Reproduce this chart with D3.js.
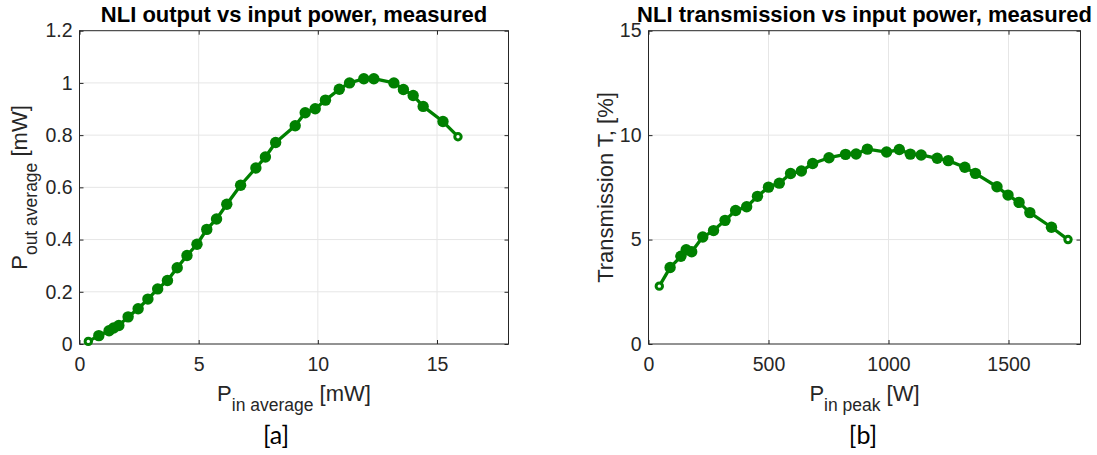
<!DOCTYPE html>
<html>
<head>
<meta charset="utf-8">
<script src="https://cdn.jsdelivr.net/npm/d3@7"></script>
<style>
  html, body { margin: 0; padding: 0; background: #ffffff; }
  svg { display: block; }
</style>
</head>
<body>
<svg id="chart" width="1097" height="455"></svg>
<script>
// Panel [a]: average output power vs average input power
const pinAverage = [0.37, 0.81, 1.24, 1.43, 1.65, 2.04, 2.46, 2.87, 3.28, 3.69, 4.10, 4.51,
  4.93, 5.34, 5.75, 6.18, 6.76, 7.40, 7.80, 8.23, 9.05, 9.47, 9.89, 10.32, 10.90, 11.33,
  11.93, 12.35, 13.19, 13.59, 14.00, 14.42, 15.25, 15.88];
const poutAverage = [0.010, 0.032, 0.051, 0.061, 0.071, 0.104, 0.135, 0.172, 0.211, 0.243,
  0.292, 0.339, 0.382, 0.439, 0.479, 0.535, 0.608, 0.674, 0.716, 0.772, 0.836, 0.886, 0.901,
  0.934, 0.976, 1.000, 1.016, 1.016, 1.000, 0.975, 0.952, 0.910, 0.852, 0.794];

// Panel [b]: transmission vs peak input power
const pinPeak = [45, 90, 135, 157, 180, 226, 271, 319, 363, 409, 454, 500, 545, 592, 637,
  684, 752, 821, 865, 912, 992, 1045, 1091, 1136, 1203, 1249, 1318, 1362, 1452, 1498,
  1544, 1589, 1679, 1748];
const transmission = [2.77, 3.66, 4.20, 4.51, 4.42, 5.12, 5.43, 5.92, 6.39, 6.57, 7.07,
  7.51, 7.70, 8.16, 8.28, 8.64, 8.92, 9.08, 9.10, 9.33, 9.19, 9.31, 9.09, 9.05, 8.89,
  8.78, 8.46, 8.17, 7.53, 7.13, 6.78, 6.29, 5.59, 5.00];

const leftXTicks = [0, 5, 10, 15];
const leftXTickLabels = ["0", "5", "10", "15"];
const leftYTicks = [0, 0.2, 0.4, 0.6, 0.8, 1.0, 1.2];
const leftYTickLabels = ["0", "0.2", "0.4", "0.6", "0.8", "1", "1.2"];
const rightXTicks = [0, 500, 1000, 1500];
const rightXTickLabels = ["0", "500", "1000", "1500"];
const rightYTicks = [0, 5, 10, 15];
const rightYTickLabels = ["0", "5", "10", "15"];

const svg = d3.select("#chart");
svg.append("rect").attr("width", 1097).attr("height", 455).attr("fill", "#ffffff");

const AX = "#262626";
const GRID = "#e6e6e6";
const LINE = "#008000";
const FONT = "'Liberation Sans', Arial, Helvetica, sans-serif";
const plotTop = 30.7, plotBottom = 344;

function panel(cfg) {
  const g = svg.append("g");
  const x = d3.scaleLinear().domain(cfg.xDomain).range([cfg.left, cfg.right]);
  const y = d3.scaleLinear().domain(cfg.yDomain).range([plotBottom, plotTop]);

  // grid
  g.append("g").selectAll("line").data(cfg.xTicks.filter(d => d > cfg.xDomain[0] && d < cfg.xDomain[1]))
    .join("line")
    .attr("x1", d => x(d)).attr("x2", d => x(d)).attr("y1", plotTop).attr("y2", plotBottom)
    .attr("stroke", GRID).attr("stroke-width", 1);
  g.append("g").selectAll("line").data(cfg.yTicks.filter(d => d > cfg.yDomain[0] && d < cfg.yDomain[1]))
    .join("line")
    .attr("x1", cfg.left).attr("x2", cfg.right).attr("y1", d => y(d)).attr("y2", d => y(d))
    .attr("stroke", GRID).attr("stroke-width", 1);

  // axes with inward ticks, labelled on bottom and left
  const styleAxis = sel => {
    sel.select(".domain").remove();
    sel.selectAll(".tick line").attr("stroke", AX).attr("stroke-width", 1);
    sel.selectAll("text").attr("fill", AX).style("font-family", FONT).style("font-size", "19.5px");
  };
  g.append("g").attr("transform", `translate(0,${plotBottom})`)
    .call(d3.axisBottom(x).tickValues(cfg.xTicks).tickFormat((d, i) => cfg.xTickLabels[i])
      .tickSizeInner(-4).tickSizeOuter(0).tickPadding(13.5))
    .call(styleAxis);
  g.append("g").attr("transform", `translate(${cfg.left},0)`)
    .call(d3.axisLeft(y).tickValues(cfg.yTicks).tickFormat((d, i) => cfg.yTickLabels[i])
      .tickSizeInner(-4).tickSizeOuter(0).tickPadding(7))
    .call(styleAxis);
  g.append("g").attr("transform", `translate(0,${plotTop})`)
    .call(d3.axisTop(x).tickValues(cfg.xTicks).tickFormat("").tickSizeInner(-4).tickSizeOuter(0))
    .call(styleAxis);
  g.append("g").attr("transform", `translate(${cfg.right},0)`)
    .call(d3.axisRight(y).tickValues(cfg.yTicks).tickFormat("").tickSizeInner(-4).tickSizeOuter(0))
    .call(styleAxis);

  g.append("rect")
    .attr("x", cfg.left).attr("y", plotTop)
    .attr("width", cfg.right - cfg.left).attr("height", plotBottom - plotTop)
    .attr("fill", "none").attr("stroke", AX).attr("stroke-width", 1);

  // data line and markers
  const pts = cfg.xs.map((v, i) => [v, cfg.ys[i]]);
  g.append("path")
    .datum(pts)
    .attr("fill", "none").attr("stroke", LINE).attr("stroke-width", 3.3)
    .attr("stroke-linejoin", "round")
    .attr("d", d3.line().x(d => x(d[0])).y(d => y(d[1])));
  const last = pts.length - 1;
  g.append("g").selectAll("circle").data(pts.filter((d, i) => i > 0 && i < last))
    .join("circle")
    .attr("cx", d => x(d[0])).attr("cy", d => y(d[1])).attr("r", 5.7)
    .attr("fill", LINE);
  g.append("g").selectAll("circle").data([pts[0], pts[last]])
    .join("circle")
    .attr("cx", d => x(d[0])).attr("cy", d => y(d[1])).attr("r", 3.2)
    .attr("fill", "#ffffff").attr("stroke", LINE).attr("stroke-width", 3);

  const cx = (cfg.left + cfg.right) / 2;
  // title
  svg.append("text")
    .attr("x", cx).attr("y", 21.7).attr("text-anchor", "middle")
    .style("font-family", FONT).style("font-size", "22px").style("font-weight", "bold")
    .attr("fill", "#000000").text(cfg.title);

  // x label with subscript
  const xl = svg.append("text")
    .attr("x", cx).attr("y", 400.7).attr("text-anchor", "middle")
    .style("font-family", FONT).attr("fill", AX);
  xl.append("tspan").style("font-size", "22px").text(cfg.xLabel[0]);
  xl.append("tspan").style("font-size", "17.5px").attr("dy", 10).text(cfg.xLabel[1]);
  xl.append("tspan").style("font-size", "22px").attr("dy", -10).text(cfg.xLabel[2]);

  // y label
  const yl = svg.append("text")
    .attr("transform", `translate(${cfg.yLabelX},187.5) rotate(-90)`)
    .attr("text-anchor", "middle")
    .style("font-family", FONT).attr("fill", AX);
  yl.append("tspan").style("font-size", "22px").text(cfg.yLabel[0]);
  if (cfg.yLabel.length > 1) {
    yl.append("tspan").style("font-size", "17.5px").attr("dy", 10).text(cfg.yLabel[1]);
    yl.append("tspan").style("font-size", "22px").attr("dy", -10).text(cfg.yLabel[2]);
  }

  // panel tag
  svg.append("text")
    .attr("x", cfg.tagX).attr("y", 444).attr("text-anchor", "middle")
    .style("font-family", "Lato, 'Open Sans', sans-serif").style("font-size", "25px")
    .attr("fill", "#000000").text(cfg.tag);
}

panel({
  left: 79.5, right: 508.5, xDomain: [0, 18], yDomain: [0, 1.2],
  xTicks: leftXTicks, xTickLabels: leftXTickLabels,
  yTicks: leftYTicks, yTickLabels: leftYTickLabels,
  xs: pinAverage, ys: poutAverage,
  title: "NLI output vs input power, measured",
  xLabel: ["P", "in average", " [mW]"],
  yLabel: ["P", "out average", " [mW]"], yLabelX: 27,
  tag: "[a]", tagX: 276
});

panel({
  left: 648.5, right: 1080.5, xDomain: [0, 1800], yDomain: [0, 15],
  xTicks: rightXTicks, xTickLabels: rightXTickLabels,
  yTicks: rightYTicks, yTickLabels: rightYTickLabels,
  xs: pinPeak, ys: transmission,
  title: "NLI transmission vs input power, measured",
  xLabel: ["P", "in peak", " [W]"],
  yLabel: ["Transmission T, [%]"], yLabelX: 613,
  tag: "[b]", tagX: 863
});
</script>
</body>
</html>
